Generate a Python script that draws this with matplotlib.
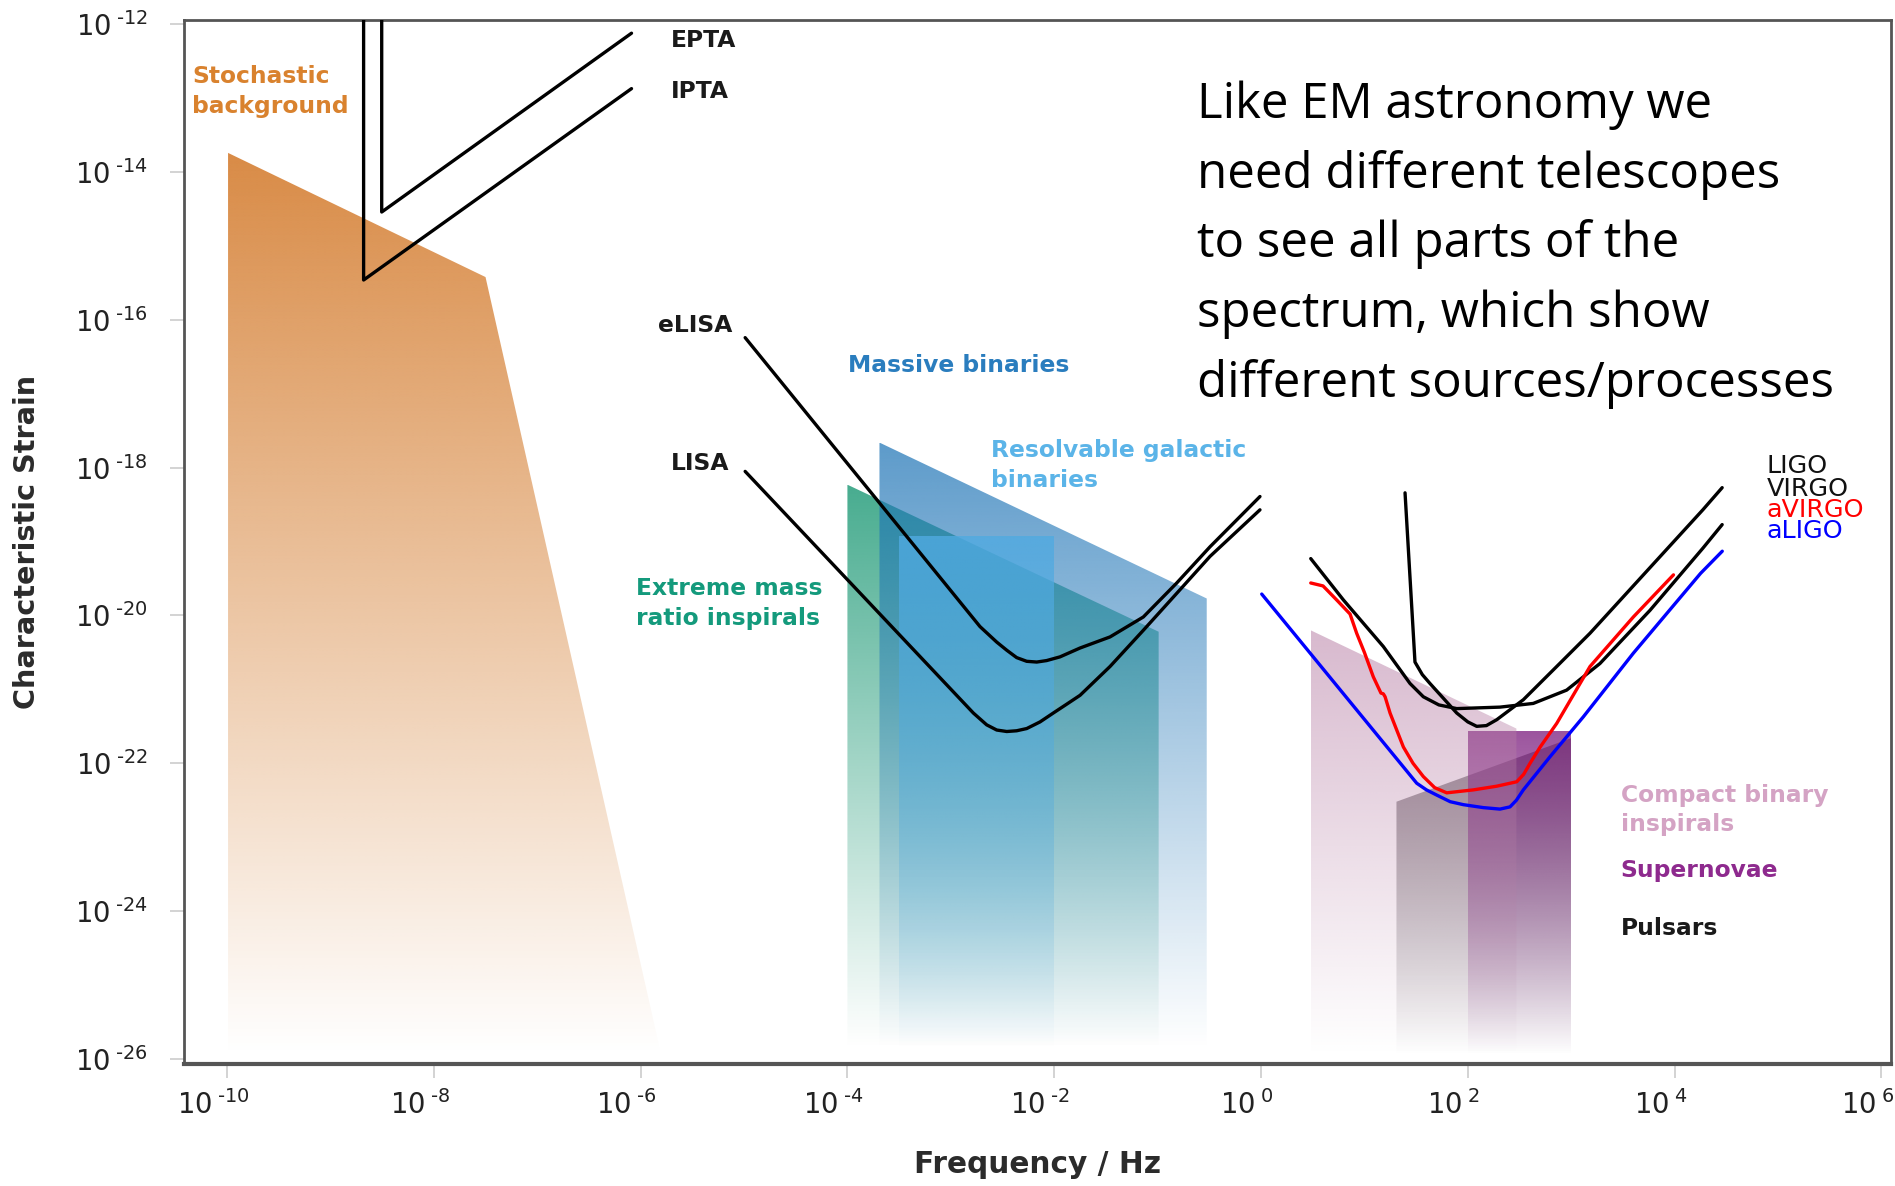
import numpy as np
import matplotlib
matplotlib.use('Agg')
import matplotlib.pyplot as plt
from matplotlib.patches import Polygon
from matplotlib.colors import to_rgb
from matplotlib.transforms import ScaledTranslation

plt.rcParams['font.family'] = ['DejaVu Sans']

# all numbers below are log10 exponents
# (frequency in Hz, characteristic strain)

# source regions (polygons, fading to white at the bottom)
stoch_f = [-9.99, -7.50, -5.80, -9.99]
stoch_h = [-13.74, -15.42, -25.95, -25.95]

mbh_f = [-3.69, -0.525, -0.525, -3.69]
mbh_h = [-17.66, -19.77, -25.86, -25.86]

emri_f = [-4.00, -0.99, -0.99, -4.00]
emri_h = [-18.23, -20.22, -25.86, -25.86]

gal_f = [-3.50, -2.00, -2.00, -3.50]
gal_h = [-18.93, -18.93, -25.86, -25.86]

cbc_f = [0.48, 2.47, 2.47, 0.48]
cbc_h = [-20.20, -21.53, -25.95, -25.95]

sn_f = [2.00, 3.00, 3.00, 2.00]
sn_h = [-21.56, -21.56, -25.95, -25.95]

psr_f = [1.31, 3.00, 3.00, 1.31]
psr_h = [-22.52, -21.66, -25.95, -25.95]

# pulsar timing arrays
epta_f = [-8.504, -8.504, -6.088]
epta_h = [-11.80, -14.54, -12.12]
ipta_f = [-8.679, -8.679, -6.088]
ipta_h = [-11.80, -15.46, -12.87]

# space detectors
elisa_f = [-4.989, -4.234, -2.718, -2.556, -2.459, -2.363, -2.266, -2.169, -2.073,
           -1.944, -1.750, -1.460, -1.138, -0.815, -0.493, -0.010]
elisa_h = [-16.24, -17.54, -20.15, -20.36, -20.47, -20.57, -20.62, -20.63, -20.61,
           -20.56, -20.44, -20.29, -20.02, -19.56, -19.07, -18.39]

lisa_f = [-4.989, -2.782, -2.653, -2.556, -2.459, -2.363, -2.266, -2.137, -2.009,
          -1.879, -1.750, -1.460, -1.138, -0.815, -0.493, -0.010]
lisa_h = [-18.05, -21.32, -21.48, -21.55, -21.57, -21.56, -21.53, -21.44, -21.32,
          -21.20, -21.08, -20.69, -20.20, -19.70, -19.20, -18.57]

# ground detectors
ligo_f = [1.393, 1.489, 1.560, 1.634, 1.893, 2.000, 2.086, 2.180, 2.280, 2.537,
          2.860, 3.182, 4.273, 4.460]
ligo_h = [-18.34, -20.63, -20.80, -20.92, -21.32, -21.44, -21.50, -21.49, -21.41,
          -21.14, -20.69, -20.24, -18.57, -18.27]

virgo_f = [0.481, 0.797, 1.183, 1.441, 1.570, 1.720, 1.893, 2.311, 2.633, 2.956,
           3.278, 3.762, 4.273, 4.460]
virgo_h = [-19.23, -19.79, -20.42, -20.92, -21.10, -21.21, -21.26, -21.24, -21.19,
           -21.01, -20.65, -19.93, -19.09, -18.77]

avirgo_f = [0.481, 0.600, 0.732, 0.861, 0.925, 1.000, 1.086, 1.160, 1.183, 1.200,
            1.248, 1.377, 1.470, 1.570, 1.680, 1.796, 2.054, 2.280, 2.473, 2.540,
            2.602, 2.700, 2.860, 3.182, 3.601, 3.989]
avirgo_h = [-19.56, -19.60, -19.79, -19.98, -20.24, -20.50, -20.83, -21.05, -21.06,
            -21.10, -21.32, -21.78, -22.00, -22.18, -22.33, -22.40, -22.36, -22.31,
            -22.25, -22.15, -22.00, -21.78, -21.46, -20.69, -20.02, -19.45]

aligo_f = [0.007, 1.506, 1.600, 1.699, 1.830, 1.957, 2.150, 2.311, 2.408, 2.470,
           2.537, 2.796, 3.118, 3.601, 4.251, 4.461]
aligo_h = [-19.71, -22.27, -22.36, -22.43, -22.52, -22.56, -22.60, -22.62, -22.59,
           -22.50, -22.36, -21.91, -21.37, -20.51, -19.43, -19.13]

xticks_exp = [-10, -8, -6, -4, -2, 0, 2, 4, 6]
yticks_exp = [-26, -24, -22, -20, -18, -16, -14, -12]

note_lines = ['Like EM astronomy we', 'need different telescopes',
              'to see all parts of the', 'spectrum, which show',
              'different sources/processes']


def p(a):
    return 10.0 ** np.asarray(a)


fig = plt.figure(figsize=(18.95, 11.86), dpi=100)
ax = fig.add_axes([0.0971, 0.1029, 0.9008, 0.8802])
ax.set_xscale('log')
ax.set_yscale('log')
ax.set_xlim(p(-10.416), p(6.093))
ax.set_ylim(p(-26.069), p(-11.942))


def fade_fill(fx, fy, color, a_top, z):
    xy = np.column_stack([p(fx), p(fy)])
    poly = Polygon(xy, closed=True, transform=ax.transData,
                   facecolor='none', edgecolor='none')
    pts = (ax.transData + ax.transAxes.inverted()).transform(xy)
    x0, x1 = pts[:, 0].min(), pts[:, 0].max()
    y0, y1 = pts[:, 1].min(), pts[:, 1].max()
    rgba = np.zeros((300, 1, 4))
    rgba[..., :3] = to_rgb(color)
    rgba[:, 0, 3] = np.linspace(a_top, 0.0, 300)
    im = ax.imshow(rgba, extent=(x0, x1, y0, y1), transform=ax.transAxes,
                   origin='upper', aspect='auto', interpolation='bilinear',
                   zorder=z)
    im.set_clip_path(poly)


fade_fill(stoch_f, stoch_h, '#d98b46', 1.0, 1)
fade_fill(emri_f, emri_h, '#008c64', 0.72, 1.1)
fade_fill(mbh_f, mbh_h, '#1e74b6', 0.72, 1.2)
fade_fill(gal_f, gal_h, '#50aae1', 0.8, 1.3)
fade_fill(psr_f, psr_h, '#595459', 0.7, 1.1)
fade_fill(sn_f, sn_h, '#7a1a7d', 0.75, 1.2)
fade_fill(cbc_f, cbc_h, '#b880a6', 0.55, 1.3)

lw = 2.4
curves = [(epta_f, epta_h, 'black'), (ipta_f, ipta_h, 'black'),
          (elisa_f, elisa_h, 'black'), (lisa_f, lisa_h, 'black'),
          (ligo_f, ligo_h, 'black'), (virgo_f, virgo_h, 'black'),
          (avirgo_f, avirgo_h, '#ff0000'), (aligo_f, aligo_h, '#0000ff')]
for cf, ch, c in curves:
    ax.plot(p(cf), p(ch), color=c, lw=lw, zorder=3,
            solid_joinstyle='round', solid_capstyle='round')


def label(f, h, lines, color, step=0.406, size=16.8, weight='bold'):
    for i, s in enumerate(lines):
        ax.text(p(f), p(h - i * step), s, color=color, fontsize=size,
                fontweight=weight, ha='left', va='baseline', zorder=4)


label(-10.338, -12.798, ['Stochastic', 'background'], '#d9822e')
label(-5.706, -12.303, ['EPTA'], '#1a1a1a')
label(-5.706, -13.001, ['IPTA'], '#1a1a1a')
label(-5.832, -16.160, ['eLISA'], '#1a1a1a')
label(-5.711, -18.031, ['LISA'], '#1a1a1a')
label(-3.996, -16.701, ['Massive binaries'], '#2a7dbe')
label(-2.615, -17.851, ['Resolvable galactic', 'binaries'], '#5bb4e8')
label(-6.047, -19.723, ['Extreme mass', 'ratio inspirals'], '#149a7c')
label(3.48, -22.524, ['Compact binary', 'inspirals'], '#d4a3c4', step=0.392)
label(3.48, -23.544, ['Supernovae'], '#8e2a8e')
label(3.48, -24.323, ['Pulsars'], '#1a1a1a')

for s, c, h in [('LIGO', '#111111', -17.974), ('VIRGO', '#111111', -18.283),
                ('aVIRGO', '#ff0000', -18.568), ('aLIGO', '#0000ff', -18.852)]:
    ax.text(p(4.887), p(h), s, color=c, fontsize=18.3, ha='left', va='center',
            zorder=4)


def exp_label(e):
    # hyphen (U+2010) instead of the wide math minus, as in the picture
    return r'$10^{\;%s%d}$' % ('\u2010' if e < 0 else '', abs(e))


ax.set_xticks(p(xticks_exp))
ax.set_xticklabels([exp_label(e) for e in xticks_exp])
ax.set_yticks(p(yticks_exp))
ax.set_yticklabels([exp_label(e) for e in yticks_exp])
ax.minorticks_off()
ax.tick_params(axis='both', length=10, width=1.2, color='#cccccc',
               labelsize=19.8, labelcolor='#222222')
ax.tick_params(axis='y', pad=16)
ax.tick_params(axis='x', pad=9)
shift = ScaledTranslation(-0.14, 0, fig.dpi_scale_trans)
for t in ax.get_xticklabels():
    t.set_transform(t.get_transform() + shift)

for sp in ax.spines.values():
    sp.set_color('#555555')
    sp.set_linewidth(2)
ax.spines['bottom'].set_linewidth(3)

fig.text(0.014, 0.5434, 'Characteristic Strain', rotation=90, ha='center',
         va='center', fontsize=20.7, fontweight='bold', color='#2b2b2b')
fig.text(0.5475, 0.011, 'Frequency / Hz', ha='center', va='baseline',
         fontsize=21.3, fontweight='bold', color='#2b2b2b')

for i, s in enumerate(note_lines):
    fig.text(0.6319, 0.9003 - i * 0.0587, s, fontsize=35.5, family='Open Sans',
             ha='left', va='baseline', color='black')

fig.savefig('out.png', dpi=100)
